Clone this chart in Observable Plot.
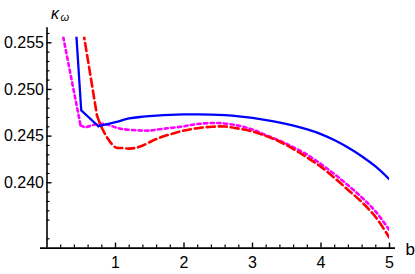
<!DOCTYPE html>
<html><head><meta charset="utf-8">
<script src="https://cdn.jsdelivr.net/npm/d3@7"></script>
<script src="https://cdn.jsdelivr.net/npm/@observablehq/plot@0.6"></script>
<style>
html,body{margin:0;padding:0;background:#fff}
svg{display:block}
</style>
</head><body><div id="chart"></div>
<script>
// Blue solid series
const bBlue = [0.4, 0.5, 0.75, 1.0, 1.2, 1.4, 1.6, 1.8, 2.0, 2.2, 2.4, 2.6, 2.8, 3.0, 3.2, 3.4, 3.6, 3.8, 4.0, 4.2, 4.4, 4.6, 4.8, 5.0];
const kBlue = [0.2590, 0.24775, 0.24606, 0.2465, 0.2469, 0.24708, 0.2472, 0.24728, 0.24732, 0.24733, 0.24731, 0.24724, 0.24712, 0.24695, 0.24672, 0.24645, 0.24612, 0.24572, 0.24522, 0.24455, 0.24375, 0.24282, 0.24172, 0.24035];
// Red dashed series
const bRed = [0.5, 0.73, 0.8, 0.9, 1.0, 1.1, 1.2, 1.3, 1.4, 1.6, 1.8, 2.0, 2.2, 2.4, 2.6, 2.8, 3.0, 3.2, 3.4, 3.6, 3.8, 4.0, 4.2, 4.4, 4.6, 4.8, 5.0];
const kRed = [0.2575, 0.2472, 0.2459, 0.2446, 0.2438, 0.24372, 0.24366, 0.24375, 0.2440, 0.2447, 0.2452, 0.2456, 0.24585, 0.24600, 0.24603, 0.2458, 0.2455, 0.2450, 0.2444, 0.2436, 0.2427, 0.2417, 0.2405, 0.2392, 0.2379, 0.2363, 0.2341];
// Magenta dotted series
const bMag = [0.2, 0.49, 0.56, 0.68, 0.83, 1.07, 1.37, 1.5, 1.7, 1.95, 2.2, 2.5, 2.8, 3.0, 3.2, 3.4, 3.6, 3.8, 4.0, 4.2, 4.4, 4.6, 4.8, 5.0];
const kMag = [0.2570, 0.24614, 0.24596, 0.24621, 0.24630, 0.2458, 0.2456, 0.2456, 0.24579, 0.2460, 0.2463, 0.2464, 0.24612, 0.2457, 0.2451, 0.2445, 0.2438, 0.2430, 0.2420, 0.2409, 0.2397, 0.2384, 0.2369, 0.2349];

// Ticks
const xTicks = [1, 2, 3, 4, 5];
const yTicks = [0.240, 0.245, 0.250, 0.255];
const xMinorTicks = d3.range(1, 26).map(i => i * 0.2).filter(v => Math.abs(v - Math.round(v)) > 1e-6);
const yMinorTicks = d3.range(234, 257).map(i => i / 1000).filter(v => Math.abs(v * 200 - Math.round(v * 200)) > 1e-6);

const xDomain = [0, 5];
const yDomain = [0.233, 0.2556];

const W = 415, H = 274;
const mL = 46.5, mR = 26, mT = 36.7, mB = 26.4;
const frameW = W - mL - mR, frameH = H - mT - mB;
const majorLen = 5, minorLen = 3;

const rows = (b, k) => b.map((v, i) => ({b: v, k: k[i]}));
const series = [
  {data: rows(bMag, kMag), split: 1, stroke: "#ff00ff", dash: "3.3,3.3", width: 2.6},
  {data: rows(bRed, kRed), split: 1, stroke: "#ff0000", dash: "8,4", width: 2.6},
  {data: rows(bBlue, kBlue), split: 2, stroke: "#0000ff", dash: null, width: 2.3}
];

const lineMarks = series.flatMap(s => [
  Plot.line(s.data.slice(0, s.split + 1), {x: "b", y: "k", stroke: s.stroke, strokeWidth: s.width, strokeDasharray: s.dash, clip: true}),
  Plot.line(s.data.slice(s.split), {x: "b", y: "k", stroke: s.stroke, strokeWidth: s.width, strokeDasharray: s.dash, curve: "catmull-rom", clip: true})
]);

const chart = Plot.plot({
  width: W,
  height: H,
  marginLeft: mL,
  marginRight: mR,
  marginTop: mT,
  marginBottom: mB,
  style: {fontFamily: "'Liberation Sans', Arial, sans-serif", fontSize: "16px", background: "#fff", color: "#000"},
  x: {domain: xDomain, axis: null},
  y: {domain: yDomain, axis: null},
  marks: [
    ...lineMarks,
    // axis lines
    Plot.ruleX([0], {stroke: "#000", strokeWidth: 1.6, insetTop: -9.5}),
    Plot.ruleY([yDomain[0]], {stroke: "#000", strokeWidth: 1.6, insetLeft: -6.5, insetRight: -6}),
    // major ticks (inside, pointing into the plot)
    Plot.ruleX(xTicks, {x: d => d, insetTop: frameH - majorLen, stroke: "#000", strokeWidth: 1.4}),
    Plot.ruleY(yTicks, {y: d => d, insetRight: frameW - majorLen, stroke: "#000", strokeWidth: 1.4}),
    // minor ticks
    Plot.ruleX(xMinorTicks, {x: d => d, insetTop: frameH - minorLen, stroke: "#000", strokeWidth: 1.2}),
    Plot.ruleY(yMinorTicks, {y: d => d, insetRight: frameW - minorLen, stroke: "#000", strokeWidth: 1.2}),
    // tick labels
    Plot.axisX(xTicks, {tickSize: 0, tickPadding: 9, label: null, fontSize: 16, tickFormat: d => String(d)}),
    Plot.axisY(yTicks, {tickSize: 0, tickPadding: 3, label: null, fontSize: 16, tickFormat: d3.format(".3f")}),
    // axis labels
    Plot.text(["κ"], {text: d => d, frameAnchor: "top-left", dx: 4, dy: -18.7, textAnchor: "start", lineAnchor: "bottom", fontStyle: "italic", fontSize: 16}),
    Plot.text(["ω"], {text: d => d, frameAnchor: "top-left", dx: 13.5, dy: -16, textAnchor: "start", lineAnchor: "bottom", fontStyle: "italic", fontSize: 11}),
    Plot.text(["b"], {text: d => d, frameAnchor: "bottom-right", dx: 16, dy: 1.5, textAnchor: "start", lineAnchor: "middle", fontSize: 17})
  ]
});
document.getElementById("chart").appendChild(chart);
</script>
</body></html>
